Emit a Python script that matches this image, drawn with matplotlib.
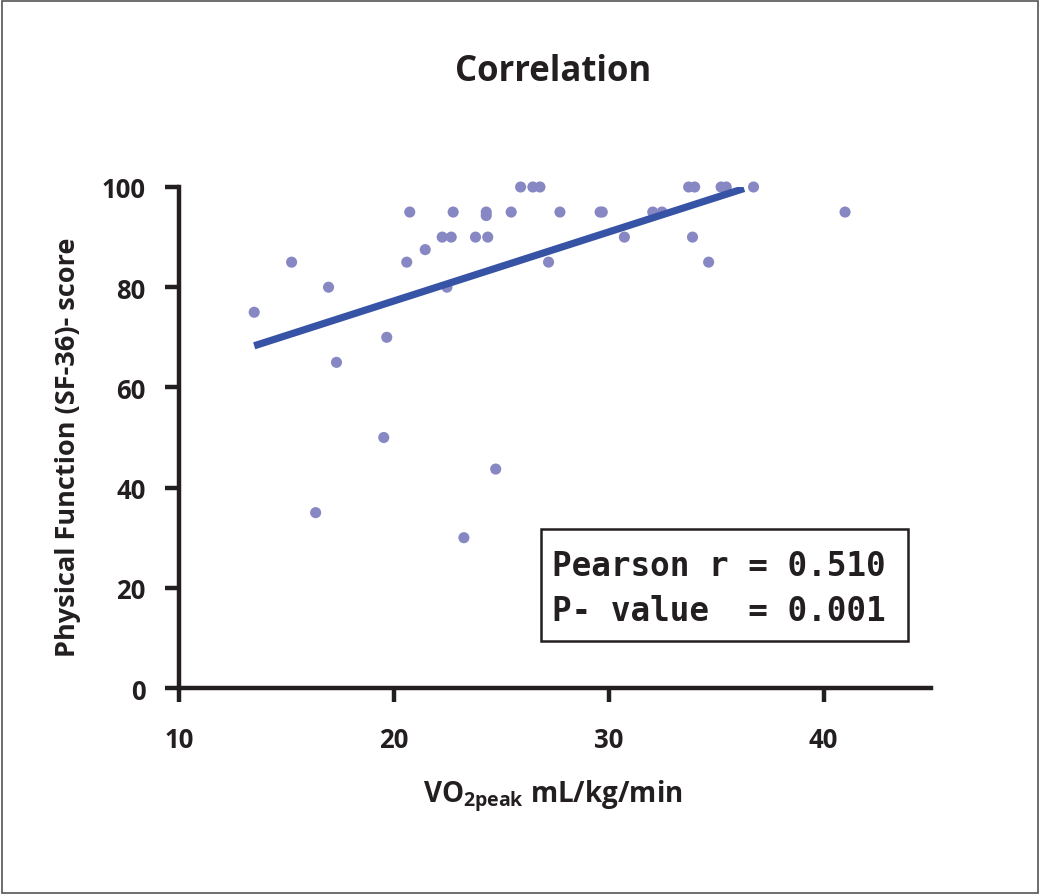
import matplotlib
matplotlib.use("Agg")
import matplotlib.pyplot as plt
from matplotlib.patches import Rectangle

# ---- data ----
vo2peak = [13.5, 15.24, 16.96, 17.33, 19.67, 19.53, 16.36, 20.74, 20.6, 21.46,
           22.25, 22.67, 22.76, 22.47, 23.8, 24.37, 24.3, 24.3, 25.46, 25.9,
           26.47, 26.8, 27.73, 29.6, 29.7, 30.73, 27.2, 32.05, 32.48, 33.72,
           34.0, 33.9, 34.65, 35.23, 35.47, 36.74, 41.0, 24.74, 23.26]
sf36_pf = [75, 85, 80, 65, 70, 50, 35, 95, 85, 87.5,
           90, 90, 95, 80, 90, 90, 95, 94.3, 95, 100,
           100, 100, 95, 95, 95, 90, 85, 95, 95, 100,
           100, 90, 85, 100, 100, 100, 95, 43.7, 30]
fit_x = [13.5, 36.3]
fit_y = [68.3, 99.7]
x_ticks = [10, 20, 30, 40]
y_ticks = [0, 20, 40, 60, 80, 100]
title = "Correlation"
stats_lines = ["Pearson r = 0.510", "P- value  = 0.001"]

W, H = 1039, 895
plt.rcParams['font.family'] = ['Open Sans', 'DejaVu Sans']
plt.rcParams['mathtext.fontset'] = 'custom'
plt.rcParams['mathtext.bf'] = 'Open Sans:bold'
plt.rcParams['mathtext.rm'] = 'Open Sans'

fig = plt.figure(figsize=(W / 100, H / 100), dpi=100)
left, right, bottom, top = 179, 931, 689, 188
ax = fig.add_axes([left / W, 1 - bottom / H, (right - left) / W, (bottom - top) / H])

dark = '#231f20'
ax.scatter(vo2peak, sf36_pf, s=64, color='#8787c4', edgecolors='none', zorder=3, clip_on=False)
ax.plot(fit_x, fit_y, color='#3753a5', lw=5.2, solid_capstyle='butt', zorder=4)

ax.set_xlim(10, 45)
ax.set_ylim(0, 100)
ax.set_xticks(x_ticks)
ax.set_yticks(y_ticks)
for s in ['top', 'right']:
    ax.spines[s].set_visible(False)
for s in ['left', 'bottom']:
    ax.spines[s].set_linewidth(3.2)
    ax.spines[s].set_color(dark)
    ax.spines[s].set_capstyle('projecting')
ax.tick_params(axis='both', direction='out', length=10, width=3.2, color=dark,
               labelcolor=dark, labelsize=18.5)
ax.tick_params(axis='x', pad=17)
ax.tick_params(axis='y', pad=14)
for lab in ax.get_xticklabels() + ax.get_yticklabels():
    lab.set_fontweight('bold')

fig.text(553 / W, 1 - 72 / H, title, ha='center', va='center', fontsize=25,
         fontweight='bold', color=dark)
fig.text(68 / W, 1 - 447 / H, "Physical Function (SF-36)- score", rotation=90,
         ha='center', va='center', fontsize=19.5, fontweight='bold', color=dark)
fig.text(553 / W, 1 - 796 / H, r"$\mathbf{VO}_{\mathbf{2peak}}$ mL/kg/min",
         ha='center', va='center', fontsize=20, fontweight='bold', color=dark)

# stats box
bx0, by0, bx1, by1 = 541, 530, 908, 642
fig.patches.append(Rectangle((bx0 / W, 1 - by1 / H), (bx1 - bx0) / W, (by1 - by0) / H,
                             transform=fig.transFigure, fill=False, lw=1.8,
                             edgecolor=dark, zorder=5))
for line, yc in zip(stats_lines, [566, 612]):
    fig.text(552 / W, 1 - yc / H, line, ha='left', va='center', fontsize=23.5,
             fontweight='bold', family='DejaVu Sans Mono', color=dark)

# outer frame
fig.patches.append(Rectangle((2 / W, 1.5 / H), (W - 3.5) / W, (H - 3.5) / H,
                             transform=fig.transFigure, fill=False, lw=1.2,
                             edgecolor='#555555', zorder=5))

fig.savefig("out.png", dpi=100)
